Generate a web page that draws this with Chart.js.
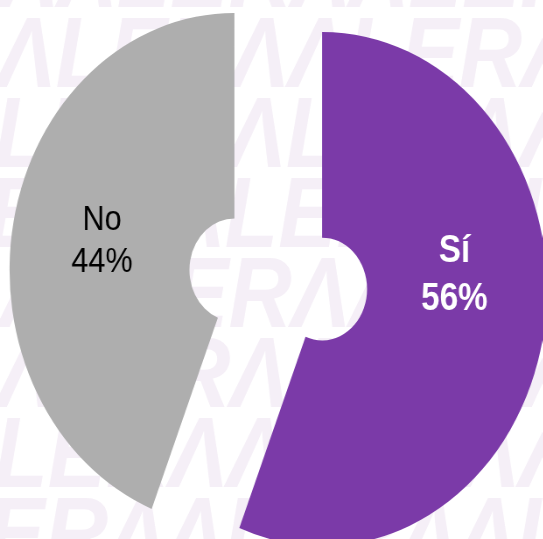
<!DOCTYPE html>
<html>
<head>
<meta charset="utf-8">
<script src="https://cdn.jsdelivr.net/npm/chart.js@4"></script>
<style>
	html, body { margin: 0; padding: 0; background: #ffffff; overflow: hidden; }
	/* the reference is squeezed horizontally, so the chart is drawn wider and scaled down */
	#wrap { width: 620px; height: 539px; transform: scaleX(0.875); transform-origin: 0 0; }
	#pie { width: 620px; height: 539px; display: block; }
</style>
</head>
<body>
<div id="wrap"><canvas id="pie" width="620" height="539"></canvas></div>
<script>
// data
const categories = ['Sí', 'No'];
const percents = [56, 44];

const slice_colors = ['#7B3AA8', '#AEAEAE'];
const text_colors = ['#ffffff', '#000000'];
const text_fonts = ['bold 38px "Liberation Sans", Arial, sans-serif', '35px "Liberation Sans", Arial, sans-serif'];
const line_heights = [48, 42];
// small vertical shift of the labels, like in the original
const label_nudge = [-42, 0];
// how far each slice is pulled out from the centre
const explode = 51;

// faint background watermark
const watermark = {
	id: 'watermark',
	beforeDraw(chart) {
		const ctx = chart.ctx;
		ctx.save();
		ctx.fillStyle = '#F5EFF7';
		ctx.font = 'bold italic 100px "Liberation Sans", Arial, sans-serif';
		ctx.textBaseline = 'alphabetic';
		for (let row = 0; row < 8; row++) {
			const y = 7 + row * 80;
			const shift = -((row * 70) % 280);
			ctx.fillText('ΛΛLERΛΛLERΛΛLER', shift, y);
		}
		ctx.restore();
	}
};

// pull the slices apart along their middle angle
// (the built-in offset option also grows the radius, we don't want that)
const explodeSlices = {
	id: 'explodeSlices',
	afterDatasetsUpdate(chart) {
		const meta = chart.getDatasetMeta(0);
		meta.data.forEach((arc) => {
			const mid = (arc.startAngle + arc.endAngle) / 2;
			arc.x += Math.cos(mid) * explode;
			arc.y += Math.sin(mid) * explode;
		});
	}
};

// label in each slice : name + percentage
const sliceLabels = {
	id: 'sliceLabels',
	afterDatasetsDraw(chart) {
		const ctx = chart.ctx;
		const meta = chart.getDatasetMeta(0);
		meta.data.forEach((arc, i) => {
			const mid = (arc.startAngle + arc.endAngle) / 2;
			const dist = 154;
			const x = arc.x + Math.cos(mid) * dist;
			const y = arc.y + Math.sin(mid) * dist + label_nudge[i];
			ctx.save();
			ctx.fillStyle = text_colors[i];
			ctx.font = text_fonts[i];
			ctx.textAlign = 'center';
			ctx.textBaseline = 'middle';
			ctx.fillText(categories[i], x, y - line_heights[i] / 2);
			ctx.fillText(percents[i] + '%', x, y + line_heights[i] / 2);
			ctx.restore();
		});
	}
};

const config_pie = {
	type: 'doughnut',
	data: {
		labels: categories,
		datasets: [{
			data: percents,
			backgroundColor: slice_colors,
			borderWidth: 0,
			clip: false,
		}],
	},
	options: {
		responsive: false,
		maintainAspectRatio: false,
		animation: false,
		radius: 257,
		cutout: '20%',
		layout: {
			padding: { left: 16, top: 20, right: 0, bottom: 0 },
		},
		plugins: {
			legend: { display: false },
			tooltip: { enabled: false },
		},
	},
	plugins: [watermark, explodeSlices, sliceLabels]
};

const myPie = new Chart(document.getElementById('pie'), config_pie);
</script>
</body>
</html>
